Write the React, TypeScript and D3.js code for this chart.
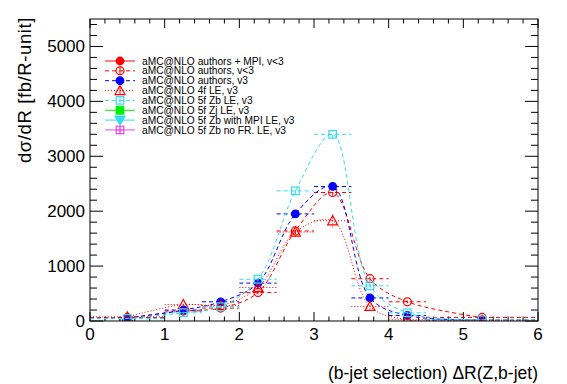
import React, { useEffect, useRef } from "react";
import * as d3 from "d3";

// bin centres and edges
const binCenter = [0.5, 1.25, 1.75, 2.25, 2.75, 3.25, 3.75, 4.25, 5.25];
const binLow = [0, 1, 1.5, 2, 2.5, 3, 3.5, 4, 4.5];
const binHigh = [1, 1.5, 2, 2.5, 3, 3.5, 4, 4.5, 6];

// series values
const authorsMpiV2: number[] = [];
const authorsV2 = [60, 180, 235, 520, 1640, 2340, 770, 350, 65];
const authorsV3 = [50, 200, 350, 690, 1950, 2450, 420, 100, 20];
const le4f = [75, 300, 285, 610, 1620, 1825, 265, 25, 15];
const zbLe5f = [45, 150, 260, 760, 2370, 3400, 640, 150, 22];
const zjLe5f: number[] = [];
const zbMpiLe5f: number[] = [];
const zbNoFrLe5f: number[] = [];

const errAuthorsV2 = [10, 20, 25, 35, 50, 60, 40, 25, 10];
const errAuthorsV3 = [10, 20, 25, 35, 50, 60, 40, 20, 8];
const errLe4f = [12, 30, 30, 50, 90, 120, 50, 15, 8];
const errZbLe5f = [10, 20, 25, 40, 60, 80, 40, 20, 8];

const xTicks = [0, 1, 2, 3, 4, 5, 6];
const yTicks = [0, 1000, 2000, 3000, 4000, 5000];

const series = [
  { label: "aMC@NLO authors + MPI, v<3", values: authorsMpiV2, err: [] as number[], color: "#ff0000", dash: "", marker: "circle", fill: true },
  { label: "aMC@NLO authors, v<3", values: authorsV2, err: errAuthorsV2, color: "#ff0000", dash: "4,3", marker: "circle", fill: false },
  { label: "aMC@NLO authors, v3", values: authorsV3, err: errAuthorsV3, color: "#0000ff", dash: "4,3", marker: "circle", fill: true },
  { label: "aMC@NLO 4f LE, v3", values: le4f, err: errLe4f, color: "#ff0000", dash: "1,2", marker: "triangle", fill: false },
  { label: "aMC@NLO 5f Zb LE, v3", values: zbLe5f, err: errZbLe5f, color: "#33ddee", dash: "4,3", marker: "square", fill: false },
  { label: "aMC@NLO 5f Zj LE, v3", values: zjLe5f, err: [] as number[], color: "#00ee00", dash: "", marker: "square", fill: true },
  { label: "aMC@NLO 5f Zb with MPI LE, v3", values: zbMpiLe5f, err: [] as number[], color: "#33ddee", dash: "", marker: "triangleDown", fill: true },
  { label: "aMC@NLO 5f Zb no FR. LE, v3", values: zbNoFrLe5f, err: [] as number[], color: "#ee44ee", dash: "", marker: "squareCross", fill: false },
];

function drawMarker(g: any, type: string, cx: number, cy: number, color: string, fill: boolean) {
  if (type === "circle") {
    g.append("circle").attr("cx", cx).attr("cy", cy).attr("r", fill ? 3.8 : 4)
      .attr("fill", fill ? color : "none").attr("stroke", color).attr("stroke-width", 1.2);
  } else if (type === "triangle") {
    g.append("path").attr("d", `M${cx},${cy - 5}L${cx + 5},${cy + 4}L${cx - 5},${cy + 4}Z`)
      .attr("fill", fill ? color : "none").attr("stroke", color).attr("stroke-width", 1.2);
  } else if (type === "triangleDown") {
    g.append("path").attr("d", `M${cx},${cy + 5}L${cx + 5},${cy - 4}L${cx - 5},${cy - 4}Z`)
      .attr("fill", fill ? color : "none").attr("stroke", color).attr("stroke-width", 1.2);
  } else {
    g.append("rect").attr("x", cx - 3.8).attr("y", cy - 3.8).attr("width", 7.6).attr("height", 7.6)
      .attr("fill", fill ? color : "none").attr("stroke", color).attr("stroke-width", 1.2);
    if (type === "squareCross") {
      g.append("line").attr("x1", cx - 3.8).attr("x2", cx + 3.8).attr("y1", cy).attr("y2", cy).attr("stroke", color);
      g.append("line").attr("x1", cx).attr("x2", cx).attr("y1", cy - 3.8).attr("y2", cy + 3.8).attr("stroke", color);
    }
  }
}

export default function App() {
  const ref = useRef<SVGSVGElement>(null);

  useEffect(() => {
    const width = 567;
    const height = 384;
    const margin = { top: 19, right: 29, bottom: 63, left: 90 };
    const innerWidth = width - margin.left - margin.right;
    const innerHeight = height - margin.top - margin.bottom;

    const svg = d3.select(ref.current);
    svg.selectAll("*").remove();
    svg.append("rect").attr("width", width).attr("height", height).attr("fill", "white");

    const x = d3.scaleLinear().domain([0, 6]).range([0, innerWidth]);
    const y = d3.scaleLinear().domain([0, 5500]).range([innerHeight, 0]);

    const g = svg.append("g").attr("transform", `translate(${margin.left}, ${margin.top})`);
    const font = "'Liberation Sans', Arial, Helvetica, sans-serif";

    // ticks on all four sides
    const ticks = g.append("g").attr("stroke", "black").attr("stroke-width", 1);
    d3.range(0, 6.0001, 0.2).forEach((v) => {
      const major = Math.abs(v - Math.round(v)) < 1e-6;
      const len = major ? 9 : 4.5;
      ticks.append("line").attr("x1", x(v)).attr("x2", x(v)).attr("y1", innerHeight).attr("y2", innerHeight - len);
      ticks.append("line").attr("x1", x(v)).attr("x2", x(v)).attr("y1", 0).attr("y2", len);
    });
    d3.range(0, 5500.1, 200).forEach((v) => {
      const major = v % 1000 === 0;
      const len = major ? 13 : 7;
      ticks.append("line").attr("x1", 0).attr("x2", len).attr("y1", y(v)).attr("y2", y(v));
      ticks.append("line").attr("x1", innerWidth).attr("x2", innerWidth - len).attr("y1", y(v)).attr("y2", y(v));
    });

    // tick labels
    g.selectAll(".xl").data(xTicks).enter().append("text")
      .attr("x", (d) => x(d)).attr("y", innerHeight + 19)
      .attr("text-anchor", "middle").attr("font-family", font).attr("font-size", 17)
      .text((d) => d);
    g.selectAll(".yl").data(yTicks).enter().append("text")
      .attr("x", -5).attr("y", (d) => y(d) + 6)
      .attr("text-anchor", "end").attr("font-family", font).attr("font-size", 17)
      .text((d) => d);

    // axis titles
    svg.append("text")
      .attr("x", margin.left + innerWidth).attr("y", 379)
      .attr("text-anchor", "end").attr("font-family", font).attr("font-size", 17.5)
      .text("(b-jet selection) \u0394R(Z,b-jet)");
    svg.append("text")
      .attr("transform", "rotate(-90)")
      .attr("x", -17).attr("y", 31)
      .attr("text-anchor", "end").attr("font-family", font).attr("font-size", 18.5)
      .attr("letter-spacing", 0.6)
      .text("d\u03c3/dR [fb/R-unit]");

    // data
    const clipId = "plotClip";
    svg.append("clipPath").attr("id", clipId).append("rect")
      .attr("x", 0).attr("y", 0).attr("width", innerWidth).attr("height", innerHeight);
    const plot = g.append("g").attr("clip-path", `url(#${clipId})`);

    const line = d3.line<number>()
      .x((d, i) => x(binCenter[i]))
      .y((d) => y(d))
      .curve(d3.curveCatmullRom.alpha(0.5));

    series.forEach((s) => {
      if (s.values.length === 0) return;
      const sg = plot.append("g");
      sg.append("path").datum(s.values).attr("d", line)
        .attr("fill", "none").attr("stroke", s.color).attr("stroke-width", 1)
        .attr("stroke-dasharray", s.dash);
      s.values.forEach((v, i) => {
        sg.append("line")
          .attr("x1", x(binLow[i])).attr("x2", x(binHigh[i]))
          .attr("y1", y(v)).attr("y2", y(v))
          .attr("stroke", s.color).attr("stroke-dasharray", s.dash);
        sg.append("line")
          .attr("x1", x(binCenter[i])).attr("x2", x(binCenter[i]))
          .attr("y1", y(v - s.err[i])).attr("y2", y(v + s.err[i]))
          .attr("stroke", s.color).attr("stroke-dasharray", s.dash);
        drawMarker(sg, s.marker, x(binCenter[i]), y(v), s.color, s.fill);
      });
    });

    // frame
    g.append("rect").attr("width", innerWidth).attr("height", innerHeight)
      .attr("fill", "none").attr("stroke", "black").attr("stroke-width", 1);

    // legend
    const leg = svg.append("g");
    series.forEach((s, i) => {
      const cy = 61 + i * 9.85;
      leg.append("line").attr("x1", 105).attr("x2", 135).attr("y1", cy).attr("y2", cy)
        .attr("stroke", s.color).attr("stroke-width", 1).attr("stroke-dasharray", s.dash);
      leg.append("line").attr("x1", 120).attr("x2", 120).attr("y1", cy - 4).attr("y2", cy + 4)
        .attr("stroke", s.color).attr("stroke-width", 1);
      drawMarker(leg, s.marker, 120, cy, s.color, s.fill);
      leg.append("text").attr("x", 142).attr("y", cy + 3.6)
        .attr("font-family", font).attr("font-size", 10.2)
        .text(s.label);
    });
  }, []);

  return (
    <svg ref={ref} width={567} height={384} style={{ position: "absolute", left: 0, top: 0 }}></svg>
  );
}
